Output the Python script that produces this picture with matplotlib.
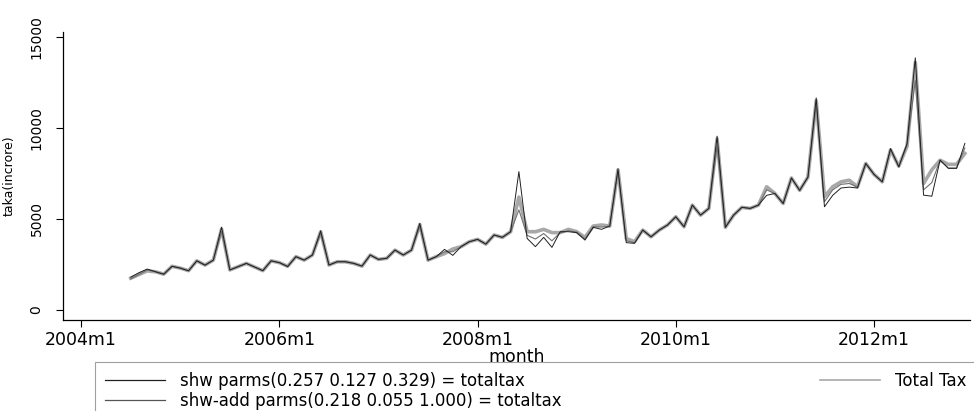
import numpy as np
import matplotlib.pyplot as plt
from matplotlib.lines import Line2D

plt.rcParams['font.family'] = ['DejaVu Sans']

# month index: 0 = 2004m1, data runs 2004m7 .. 2012m12
months = np.arange(6, 108)

total_tax = [1750, 1950, 2150, 2100, 1970, 2400, 2300, 2160, 2700, 2470, 2740, 4450,
             2200, 2380, 2560, 2360, 2160, 2700, 2600, 2400, 2930, 2740, 3020, 4300,
             2470, 2650, 2650, 2560, 2410, 3020, 2780, 2840, 3290, 3020, 3290, 4700,
             2740, 2930, 3100, 3350, 3480, 3750, 3880, 3620, 4120, 3990, 4300, 6200,
             4300, 4300, 4430, 4250, 4250, 4430, 4300, 3990, 4610, 4670, 4610, 7700,
             3930, 3750, 4390, 4020, 4390, 4670, 5120, 4570, 5760, 5210, 5580, 9400,
             4540, 5210, 5640, 5580, 5760, 6770, 6400, 5850, 7250, 6570, 7300, 11500,
             6220, 6770, 7040, 7130, 6770, 8050, 7450, 7040, 8800, 7900, 9000, 13600,
             6950, 7700, 8230, 8000, 8000, 8600]

shw = [1800, 2050, 2250, 2100, 1960, 2400, 2300, 2150, 2700, 2460, 2740, 4550,
       2200, 2380, 2560, 2360, 2160, 2700, 2600, 2380, 2930, 2740, 3020, 4350,
       2470, 2650, 2650, 2560, 2410, 3020, 2780, 2840, 3290, 3020, 3290, 4750,
       2740, 2930, 3330, 3000, 3480, 3750, 3880, 3620, 4120, 3990, 4300, 7600,
       3930, 3480, 3990, 3440, 4300, 4300, 4250, 3840, 4540, 4430, 4610, 7750,
       3700, 3660, 4390, 4020, 4390, 4670, 5120, 4570, 5760, 5210, 5580, 9550,
       4540, 5210, 5640, 5580, 5760, 6300, 6400, 5850, 7250, 6570, 7300, 11650,
       5670, 6300, 6700, 6750, 6700, 8050, 7450, 7040, 8870, 7860, 9150, 13850,
       6310, 6250, 8230, 7780, 7780, 9150]

shw_add = [1700, 1950, 2200, 2100, 1980, 2400, 2300, 2160, 2700, 2470, 2740, 4300,
           2200, 2380, 2560, 2360, 2160, 2700, 2600, 2400, 2930, 2740, 3020, 4200,
           2470, 2650, 2650, 2560, 2410, 3020, 2780, 2840, 3290, 3020, 3290, 4600,
           2740, 2930, 3200, 3200, 3480, 3750, 3880, 3620, 4120, 3990, 4300, 5500,
           4100, 3900, 4200, 3800, 4250, 4350, 4280, 3900, 4580, 4550, 4610, 7600,
           3800, 3700, 4390, 4020, 4390, 4670, 5120, 4570, 5760, 5210, 5580, 9000,
           4540, 5210, 5640, 5580, 5760, 6600, 6400, 5850, 7250, 6570, 7300, 11300,
           5950, 6600, 6900, 6950, 6750, 8050, 7450, 7040, 8800, 7880, 9050, 12600,
           6600, 7000, 8230, 7800, 7800, 8900]

xtick_pos = [0, 24, 48, 72, 96]
xtick_lab = ['2004m1', '2006m1', '2008m1', '2010m1', '2012m1']
ytick_pos = [0, 5000, 10000, 15000]

fig = plt.figure(figsize=(9.74, 4.11), dpi=100)
ax = fig.add_axes([0.0647, 0.2214, 0.931, 0.7007])

ax.plot(months, total_tax, color='#a8a8a8', lw=2.6, zorder=1)
ax.plot(months, shw_add, color='#707070', lw=0.8, zorder=2)
ax.plot(months, shw, color='#202020', lw=0.7, zorder=3)

ax.set_xlim(-2.2, 107.6)
ax.set_ylim(-550, 15270)

for s in ['top', 'right']:
    ax.spines[s].set_visible(False)
for s in ['left', 'bottom']:
    ax.spines[s].set_linewidth(0.9)

ax.set_xticks(xtick_pos)
ax.set_xticklabels(xtick_lab, fontsize=12.5)
ax.set_yticks(ytick_pos)
ax.set_yticklabels([str(v) for v in ytick_pos], fontsize=10, rotation=90, va='center')
ax.tick_params(axis='x', length=5, width=0.8, pad=3)
ax.tick_params(axis='y', length=5, width=0.8, pad=9)

ax.set_xlabel('month', fontsize=12.5, labelpad=-1)
ax.set_ylabel('taka(incrore)', fontsize=9)
ax.yaxis.set_label_coords(-0.052, 0.5)

# legend below the plot, two columns like the Stata one
handles = [Line2D([], [], color='#202020', lw=0.9),
           Line2D([], [], color='#555555', lw=0.9),
           Line2D([], [], color='#a8a8a8', lw=1.2)]
labels = ['shw parms(0.257 0.127 0.329) = totaltax',
          'shw-add parms(0.218 0.055 1.000) = totaltax',
          'Total Tax']
leg = fig.legend(handles, labels, ncol=2, loc='upper left', mode='expand',
                 bbox_to_anchor=(0.0975, -0.02, 0.905, 0.1392),
                 fontsize=12, frameon=True, fancybox=False, borderaxespad=0,
                 handlelength=3.6, handletextpad=0.9, labelspacing=0.1,
                 borderpad=0.6)
leg.get_frame().set_edgecolor('#888888')
leg.get_frame().set_linewidth(0.8)

fig.savefig('out.png', dpi=100)
